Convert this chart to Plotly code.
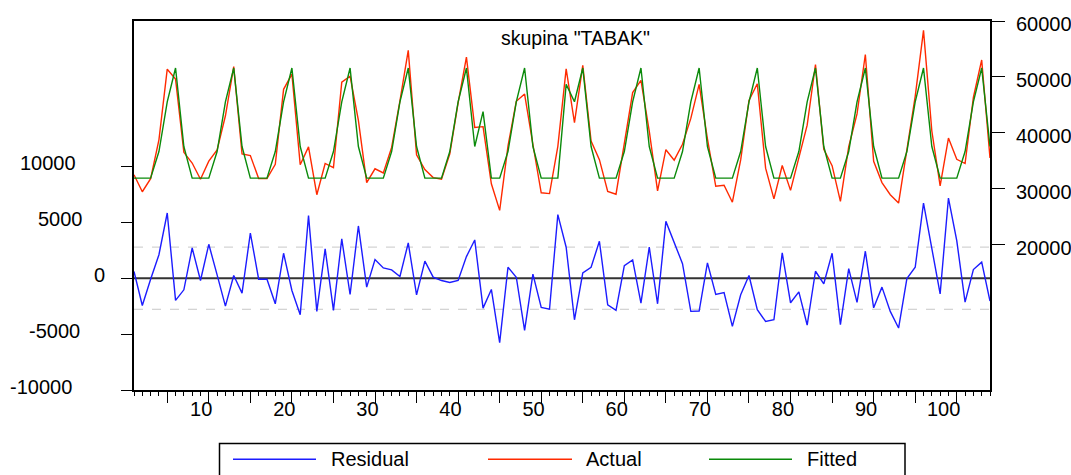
import plotly.graph_objects as go

# Observation index
obs = list(range(1, 105))

residual = [
    600, -2440, -100, 2100, 5830, -1990, -1040, 2700, -210, 3030,
    300, -2500, 240, -1340, 4040, -90, -90, -2290, 2230, -1100,
    -3270, 5590, -2970, 2620, -2880, 3510, -1460, 4670, -800, 1670,
    920, 740, 150, 3150, -1490, 1520, 90, -210, -390, -210,
    1930, 3420, -2680, -1010, -5770, 980, 90, -4670, 360, -2620,
    -2770, 5680, 2770, -3720, 480, 980, 3300, -2380, -2880, 1130,
    1640, -2230, 2770, -2290, 5080, 3210, 1300, -2970, -2940, 1370,
    -1460, -1280, -4310, -1490, 240, -2820, -3870, -3720, 2260, -2200,
    -1220, -4190, 620, -500, 2230, -4160, 860, -2170, 2410, -2650,
    -800, -2970, -4460, -30, 980, 6720, 2770, -1400, 7170, 3360,
    -2140, 770, 1430, -2050,
]

actual = [
    32500, 29460, 31800, 38750, 51380, 49610, 36510, 34600, 31690, 34930,
    36950, 43050, 51840, 36210, 35940, 31810, 31810, 34360, 47780, 50500,
    34280, 37490, 28930, 34520, 33770, 49060, 50140, 42220, 31100, 33570,
    32820, 37390, 45700, 54750, 36060, 33420, 31990, 31690, 36260, 45340,
    53530, 40970, 41100, 30890, 26130, 37630, 45640, 46930, 37910, 29280,
    29130, 37580, 51430, 41830, 52080, 38530, 35200, 29520, 29020, 37780,
    47190, 49370, 40320, 29610, 36980, 35110, 37950, 42580, 48660, 38920,
    30440, 30620, 27590, 35160, 45790, 48780, 33680, 28180, 34160, 29700,
    35430, 41360, 52220, 37050, 34130, 27740, 37510, 43380, 54010, 34900,
    31100, 28930, 27440, 36620, 46530, 58320, 40320, 30500, 39070, 35260,
    34510, 46320, 53030, 35500,
]

fitted = [
    31900, 31900, 31900, 36650, 45550, 51600, 37550,
    31900, 31900, 31900, 36650, 45550, 51600, 37550,
    31900, 31900, 31900, 36650, 45550, 51600, 37550,
    31900, 31900, 31900, 36650, 45550, 51600, 37550,
    31900, 31900, 31900, 36650, 45550, 51600, 37550,
    31900, 31900, 31900, 36650, 45550, 51600, 37550,
    43780, 31900, 31900, 36650, 45550, 51600, 37550,
    31900, 31900, 31900, 48660, 45550, 51600, 37550,
    31900, 31900, 31900, 36650, 45550, 51600, 37550,
    31900, 31900, 31900, 36650, 45550, 51600, 37550,
    31900, 31900, 31900, 36650, 45550, 51600, 37550,
    31900, 31900, 31900, 36650, 45550, 51600, 37550,
    31900, 31900, 36650, 45550, 51600, 37550,
    31900, 31900, 31900, 36650, 45550, 51600, 37550,
    31900, 31900, 31900, 36650, 45550, 51600, 37550,
]

left_ticks = [-10000, -5000, 0, 5000, 10000]
right_ticks = [20000, 30000, 40000, 50000, 60000]
x_major = list(range(5, 105, 5))
x_labels = [str(v) if v % 10 == 0 else "" for v in x_major]
se_band = 2780
title_text = 'skupina "TABAK"'
series_names = ["Residual", "Actual", "Fitted"]

# ---- styling ----
W, H = 1071, 475
L, R, T, B = 134, 81, 21, 85
PW, PH = W - L - R, H - T - B
FONT = "Liberation Sans, Arial, sans-serif"
C_RES, C_ACT, C_FIT = "#1c1cff", "#ff2a00", "#0a8a0a"
colors = [C_RES, C_ACT, C_FIT]


def px_x(px):
    return (px - L) / PW


def px_y(py):
    return (H - B - py) / PH


fig = go.Figure()
fig.add_trace(go.Scatter(x=obs, y=residual, mode="lines", name="Residual",
                         line=dict(color=C_RES, width=1.4), yaxis="y",
                         showlegend=False))
fig.add_trace(go.Scatter(x=obs, y=actual, mode="lines", name="Actual",
                         line=dict(color=C_ACT, width=1.4), yaxis="y2",
                         showlegend=False))
fig.add_trace(go.Scatter(x=obs, y=fitted, mode="lines", name="Fitted",
                         line=dict(color=C_FIT, width=1.4), yaxis="y2",
                         showlegend=False))

shapes = [
    # zero line of residuals
    dict(type="line", xref="paper", x0=0, x1=1, yref="y", y0=0, y1=0,
         line=dict(color="#333333", width=2), layer="below"),
    # +/- one standard error band
    dict(type="line", xref="paper", x0=0, x1=1, yref="y", y0=se_band, y1=se_band,
         line=dict(color="#c8c8c8", width=1, dash="dash"), layer="below"),
    dict(type="line", xref="paper", x0=0, x1=1, yref="y", y0=-se_band, y1=-se_band,
         line=dict(color="#c8c8c8", width=1, dash="dash"), layer="below"),
    # legend box
    dict(type="rect", xref="paper", yref="paper",
         x0=px_x(219.5), x1=px_x(905), y0=px_y(443.5), y1=px_y(490),
         line=dict(color="black", width=1.5), fillcolor="rgba(0,0,0,0)"),
]

annotations = [
    dict(text=title_text, xref="paper", yref="paper", x=px_x(575.5), y=px_y(38),
         xanchor="center", yanchor="middle", showarrow=False,
         font=dict(family=FONT, size=19.5, color="black")),
]

# left-axis labels
left_label_right_edge = {-10000: 74, -5000: 82, 0: 107, 5000: 85, 10000: 78}
for v in left_ticks:
    annotations.append(dict(
        text=str(v), xref="paper", yref="y", x=px_x(left_label_right_edge[v]), y=v,
        xanchor="right", yanchor="middle", yshift=3, showarrow=False,
        font=dict(family=FONT, size=20, color="black")))

# legend entries
legend_items = [(233, 316, 329), (488, 572, 584), (709, 792, 805)]
for name, col, (lx0, lx1, tx) in zip(series_names, colors, legend_items):
    shapes.append(dict(type="line", xref="paper", yref="paper",
                       x0=px_x(lx0), x1=px_x(lx1), y0=px_y(459.3), y1=px_y(459.3),
                       line=dict(color=col, width=1.4)))
    annotations.append(dict(text=name, xref="paper", yref="paper",
                            x=px_x(tx), y=px_y(459.3), xanchor="left",
                            yanchor="middle", showarrow=False,
                            font=dict(family=FONT, size=20, color="black")))

fig.update_layout(
    width=W, height=H,
    margin=dict(l=L, r=R, t=T, b=B, pad=0, autoexpand=False),
    paper_bgcolor="white", plot_bgcolor="white",
    font=dict(family=FONT, size=20, color="black"),
    showlegend=False,
    shapes=shapes,
    annotations=annotations,
    xaxis=dict(
        range=[1, 104], showgrid=False, zeroline=False, automargin=False,
        showline=True, linecolor="black", linewidth=2, mirror=True,
        tickmode="array", tickvals=x_major, ticktext=x_labels,
        ticks="outside", ticklen=11, tickwidth=1, tickcolor="black",
        ticklabelposition="outside left", ticklabelshift=5,
        minor=dict(dtick=1, tick0=1, ticks="outside", ticklen=4,
                   tickwidth=1, tickcolor="black", showgrid=False),
        tickfont=dict(family=FONT, size=20, color="black"),
    ),
    yaxis=dict(
        range=[-10000, 23000], showgrid=False, zeroline=False, automargin=False,
        showline=True, linecolor="black", linewidth=2,
        tickmode="array", tickvals=left_ticks, showticklabels=False,
        ticks="outside", ticklen=11, tickwidth=1, tickcolor="black",
    ),
    yaxis2=dict(
        range=[-6000, 60000], overlaying="y", side="right", automargin=False,
        showgrid=False, zeroline=False,
        showline=True, linecolor="black", linewidth=2,
        tickmode="array", tickvals=right_ticks,
        ticktext=[str(v) for v in right_ticks],
        ticks="outside", ticklen=13, tickwidth=1, tickcolor="black",
        ticklabelstandoff=7, ticklabelshift=3,
        tickfont=dict(family=FONT, size=20, color="black"),
    ),
)

fig.write_html("out.html")
